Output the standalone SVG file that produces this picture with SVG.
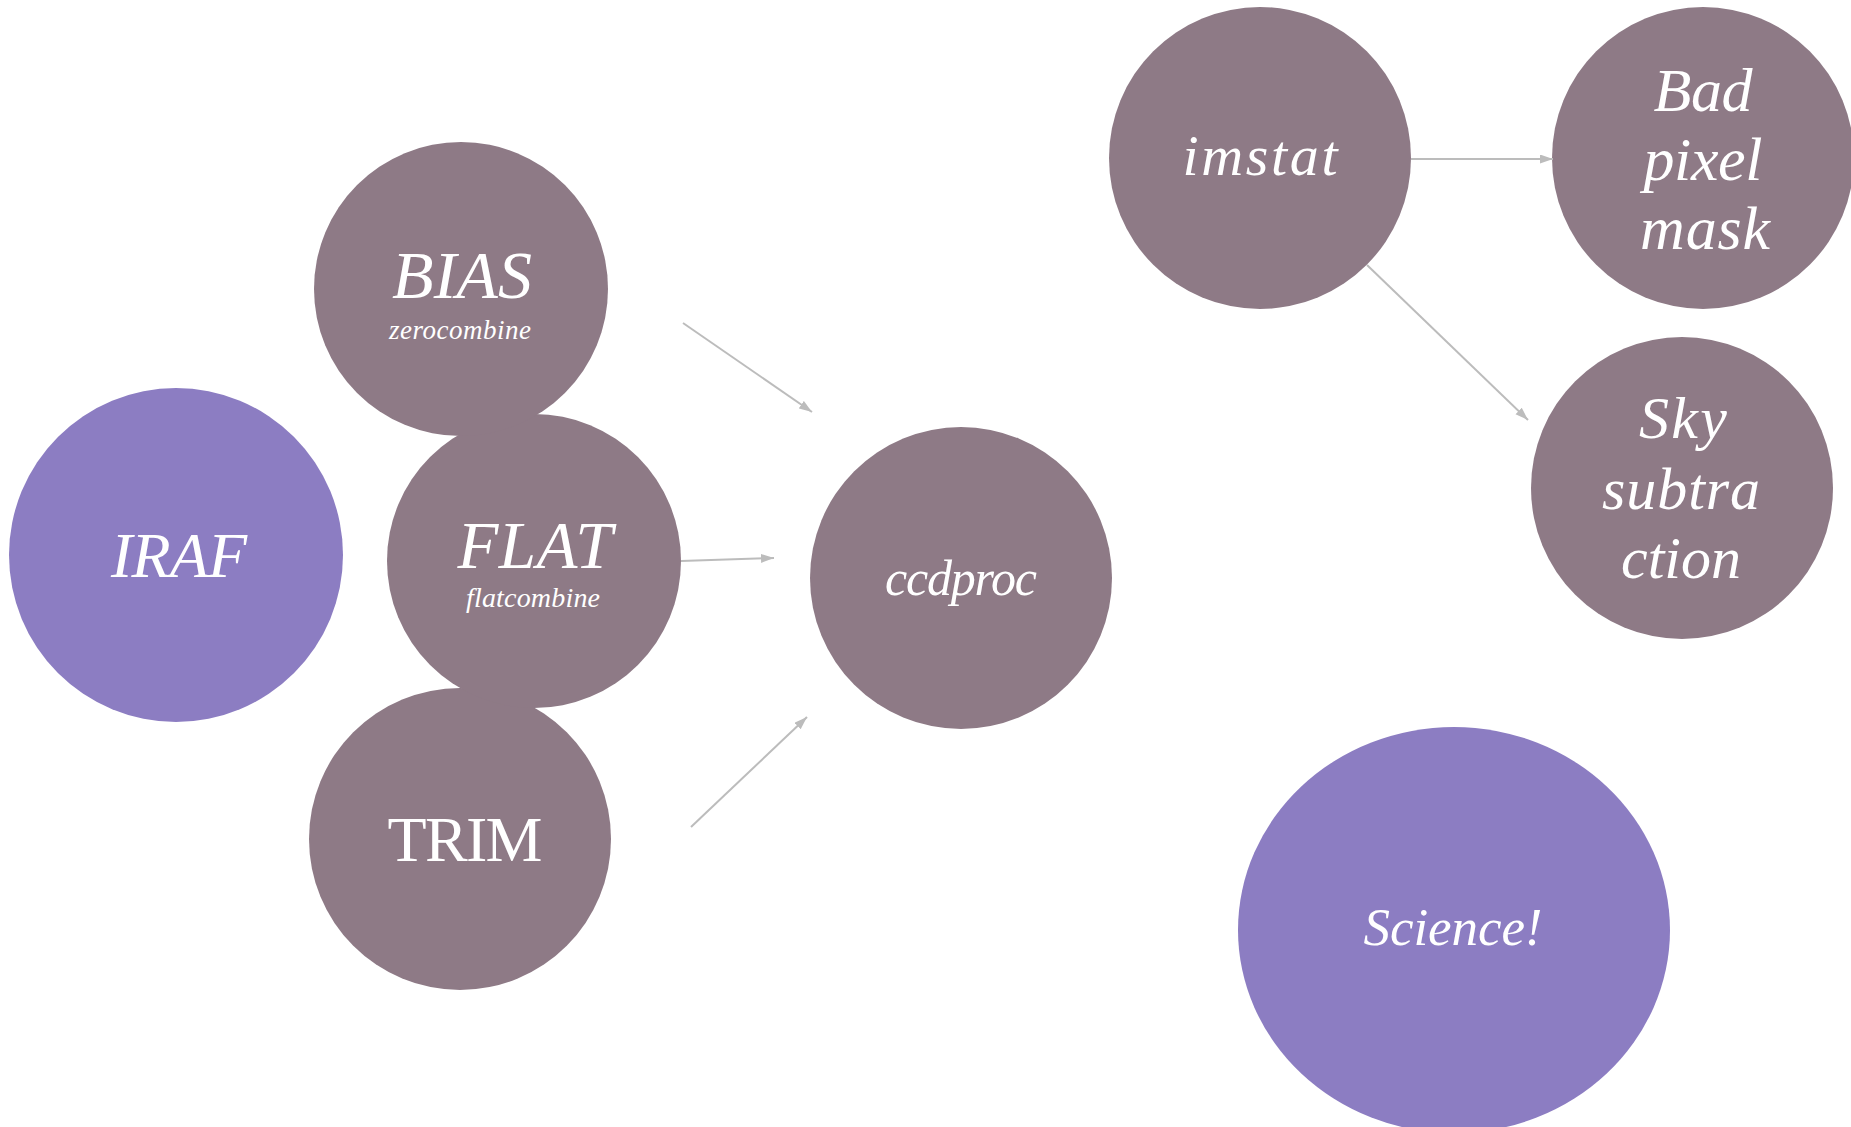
<svg xmlns="http://www.w3.org/2000/svg" width="1851" height="1127" viewBox="0 0 1851 1127">
  <style>
    .task { fill: #8e7a86; }
    .root { fill: #8c7dc2; }
    .lbl { fill: #ffffff; font-family: "Liberation Serif", "DejaVu Serif", serif; font-style: italic; text-anchor: middle; }
    .upright { font-style: normal; }
    .edge { stroke: #bcbcbc; stroke-width: 2; fill: none; marker-end: url(#head); }
  </style>
  <defs>
    <marker id="head" markerUnits="userSpaceOnUse" markerWidth="14" markerHeight="10" refX="13" refY="4.5" orient="auto">
      <path d="M0,0 L13,4.5 L0,9 z" fill="#bcbcbc"/>
    </marker>
  </defs>
  <rect width="1851" height="1127" fill="#ffffff"/>

  <!-- calibration stack -->
  <g id="node-iraf">
    <circle class="root" cx="176" cy="555" r="167"/>
    <text class="lbl" x="179" y="577" font-size="64" textLength="136">IRAF</text>
  </g>
  <g id="node-trim">
    <circle class="task" cx="460" cy="839" r="151"/>
    <text class="lbl upright" x="465" y="861" font-size="64" textLength="155">TRIM</text>
  </g>
  <g id="node-flat">
    <circle class="task" cx="534" cy="561" r="147"/>
    <text class="lbl" x="535" y="568" font-size="67" textLength="155">FLAT</text>
    <text class="lbl" x="533" y="607" font-size="28" textLength="134">flatcombine</text>
  </g>
  <g id="node-bias">
    <circle class="task" cx="461" cy="289" r="147"/>
    <text class="lbl" x="462" y="298" font-size="68" textLength="140">BIAS</text>
    <text class="lbl" x="460" y="339" font-size="27" textLength="142">zerocombine</text>
  </g>

  <!-- reduction -->
  <g id="node-ccdproc">
    <circle class="task" cx="961" cy="578" r="151"/>
    <text class="lbl" x="961" y="595" font-size="50" textLength="152">ccdproc</text>
  </g>

  <!-- post-processing -->
  <g id="node-imstat">
    <circle class="task" cx="1260" cy="158" r="151"/>
    <text class="lbl" x="1260" y="175" font-size="58" textLength="155">imstat</text>
  </g>
  <g id="node-bpm">
    <circle class="task" cx="1703" cy="158" r="151"/>
    <text class="lbl" x="1703" y="111" font-size="62" textLength="99">Bad</text>
    <text class="lbl" x="1703" y="180" font-size="62" textLength="119">pixel</text>
    <text class="lbl" x="1705" y="249" font-size="62" textLength="130">mask</text>
  </g>
  <g id="node-sky">
    <circle class="task" cx="1682" cy="488" r="151"/>
    <text class="lbl" x="1683" y="438" font-size="60" textLength="88">Sky</text>
    <text class="lbl" x="1681" y="509" font-size="60" textLength="158">subtra</text>
    <text class="lbl" x="1681" y="578" font-size="60" textLength="120">ction</text>
  </g>
  <g id="node-science">
    <ellipse class="root" cx="1454" cy="930" rx="216" ry="203"/>
    <text class="lbl" x="1453" y="945" font-size="53" textLength="179">Science!</text>
  </g>

  <g id="connectors">
    <line class="edge" x1="683" y1="323" x2="812" y2="412"/>
    <line class="edge" x1="681" y1="561" x2="774" y2="558"/>
    <line class="edge" x1="691" y1="827" x2="807" y2="717"/>
    <line class="edge" x1="1411" y1="159" x2="1553" y2="159"/>
    <line class="edge" x1="1367" y1="265" x2="1528" y2="420"/>
  </g>
</svg>
